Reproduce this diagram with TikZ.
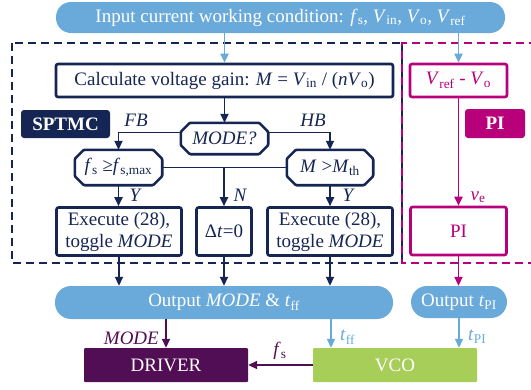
\documentclass[tikz,border=0pt]{standalone}
\usepackage{fontspec}
\setmainfont{Liberation Serif}
\usetikzlibrary{arrows.meta}
\definecolor{navy}{RGB}{22,38,84}
\definecolor{mag}{RGB}{184,0,122}
\definecolor{lblue}{RGB}{106,170,218}
\definecolor{dpurp}{RGB}{82,14,84}
\definecolor{lgreen}{RGB}{168,206,90}
\newcommand\sub[1]{\textsubscript{#1}}
\newcommand\octa[1]{\draw[navy,line width=2.6pt,rounded corners=1pt,fill=white]
 ([xshift=9pt]#1.north west) -- ([xshift=-9pt]#1.north east) -- ([yshift=-9pt]#1.north east)
 -- ([yshift=9pt]#1.south east) -- ([xshift=-9pt]#1.south east) -- ([xshift=9pt]#1.south west)
 -- ([yshift=9pt]#1.south west) -- ([yshift=-9pt]#1.north west) -- cycle;}
\begin{document}
\begin{tikzpicture}[x=1pt,y=-1pt,
 font=\fontsize{19}{21}\selectfont,
 nbox/.style={draw=navy,line width=2.6pt,fill=white,rounded corners=2pt,inner sep=0pt,text=navy,align=center},
 mbox/.style={draw=mag,line width=2.6pt,fill=white,rounded corners=2pt,inner sep=0pt,text=mag,align=center},
 octnode/.style={inner sep=0pt,text=navy},
 pill/.style={fill=lblue,rounded corners=15pt,inner sep=0pt,text=white},
 tag/.style={rounded corners=3pt,inner sep=0pt,text=white,font=\fontsize{19}{21}\selectfont\bfseries},
 solid/.style={inner sep=0pt,text=white,rounded corners=1pt},
 arr/.style={-{Triangle[length=9pt,width=8pt]},line width=1.8pt},
 lab/.style={inner sep=0pt},
 dline/.style={line width=2pt,dash pattern=on 8pt off 5pt}]
\useasboundingbox (0,0) rectangle (531,389);

% dashed regions
\draw[dline,navy] (12,43) rectangle (402,263);
\draw[dline,mag,dash phase=6pt] (531,43) -- (402,43) -- (402,263) -- (531,263);

% top pill
\node[pill,minimum width=449pt,minimum height=31pt] (top) at (280.5,17.5)
 {Input current working condition: \textit{f}\sub{s}, \textit{V}\sub{in}, \textit{V}\sub{o}, \textit{V}\sub{ref}};

% boxes
\node[nbox,minimum width=337pt,minimum height=33pt] (calc) at (224.5,80.5)
 {Calculate voltage gain: \textit{M} = \textit{V}\sub{in} / (\textit{nV}\sub{o})};
\node[mbox,minimum width=97pt,minimum height=33pt] (vref) at (458.5,80.5)
 {\textit{V}\sub{ref} - \textit{V}\sub{o}};
\node[tag,fill=navy,minimum width=89pt,minimum height=28pt] (sptmc) at (65.5,124) {SPTMC};
\node[tag,fill=mag,minimum width=60pt,minimum height=29pt] (pitag) at (495,123.5) {PI};

\node[octnode,minimum width=87pt,minimum height=31pt] (mode) at (224.5,138.5) {};
\node[octnode,minimum width=87pt,minimum height=35pt] (fs) at (118.5,167.5) {};
\node[octnode,minimum width=86pt,minimum height=35pt] (mth) at (330,167.5) {};

% connectors (drawn first, boxes over them)
\draw[arr,lblue] (top.south -| calc.north) -- (calc.north);
\draw[arr,lblue] (top.south -| vref.north) -- (vref.north);
\draw[arr,navy] (calc.south) -- (mode.north);
\draw[arr,navy] ([yshift=6pt]mode.west) -| (fs.north);
\draw[arr,navy] ([yshift=6pt]mode.east) -| (mth.north);
\draw[line width=1.8pt,navy] (fs.east) -- (mth.west);

\octa{mode}
\octa{fs}
\octa{mth}
\node[octnode] at (mode) {\textit{MODE?}};
\node[octnode] at (fs) {\textit{f}\sub{s} ≥\textit{f}\sub{s,max}};
\node[octnode] at (mth) {\textit{M} >\textit{M}\sub{th}};

\node[nbox,minimum width=125pt,minimum height=48pt,font=\fontsize{19}{22}\selectfont] (exl) at (119,231.5)
 {Execute (28),\\toggle \textit{MODE}};
\node[nbox,minimum width=55pt,minimum height=48pt] (dt) at (224,231.5) {Δ\textit{t}=0};
\node[nbox,minimum width=125pt,minimum height=48pt,font=\fontsize{19}{22}\selectfont] (exr) at (330,231.5)
 {Execute (28),\\toggle \textit{MODE}};
\node[mbox,minimum width=96pt,minimum height=48pt] (pi) at (458.5,231) {PI};

\draw[arr,navy] (fs.east -| dt.north) -- (dt.north);
\draw[arr,navy] (fs.south) -- (fs.south |- exl.north);
\draw[arr,navy] (mth.south) -- (mth.south |- exr.north);
\draw[arr,mag] (vref.south) -- (pi.north);

\node[lab,font=\fontsize{19}{21}\selectfont\itshape,text=navy] (fb) at (136,120) {FB};
\node[lab,font=\fontsize{19}{21}\selectfont\itshape,text=navy] (hb) at (313,120) {HB};
\node[lab,font=\fontsize{19}{21}\selectfont\itshape,text=navy] (y1) at (135,195) {Y};
\node[lab,font=\fontsize{19}{21}\selectfont\itshape,text=navy] (n1) at (240,195) {N};
\node[lab,font=\fontsize{19}{21}\selectfont\itshape,text=navy] (y2) at (348,195) {Y};
\node[lab,text=mag] (ve) at (478,197) {\textit{v}\sub{e}};

% output pills
\node[pill,minimum width=338pt,minimum height=33pt,rounded corners=16pt] (outm) at (224,302.5)
 {Output \textit{MODE} \& \textit{t}\sub{ff}};
\node[pill,minimum width=96pt,minimum height=32pt,rounded corners=16pt] (tpi) at (459,302)
 {Output \textit{t}\sub{PI}};

\draw[arr,navy] (exl.south) -- (exl.south |- outm.north);
\draw[arr,navy] (dt.south) -- (dt.south |- outm.north);
\draw[arr,navy] (exr.south) -- (exr.south |- outm.north);
\draw[arr,mag] (pi.south) -- (pi.south |- tpi.north);

% bottom blocks
\node[solid,fill=dpurp,minimum width=164pt,minimum height=34pt] (drv) at (166,365) {DRIVER};
\node[solid,fill=lgreen,minimum width=164pt,minimum height=34pt] (vco) at (395,365) {VCO};
\coordinate (vin) at ([xshift=-64pt]vco.north);

\draw[arr,dpurp] (drv.north |- outm.south) -- (drv.north);
\draw[arr,lblue] (outm.south -| vin) -- (vin);
\draw[arr,lblue] (tpi.south) -- (tpi.south |- vco.north);
\draw[arr,dpurp] (vco.west) -- (drv.east);

\node[lab,anchor=east,text=dpurp,font=\fontsize{19}{21}\selectfont\itshape] (ml) at (159,338) {MODE};
\node[lab,anchor=west,text=lblue] (tffl) at (340,337) {\textit{t}\sub{ff}};
\node[lab,anchor=west,text=lblue] (tpil) at (468,337) {\textit{t}\sub{PI}};
\node[lab,text=dpurp] (fsl) at (280,351) {\textit{f}\sub{s}};
\end{tikzpicture}
\end{document}
